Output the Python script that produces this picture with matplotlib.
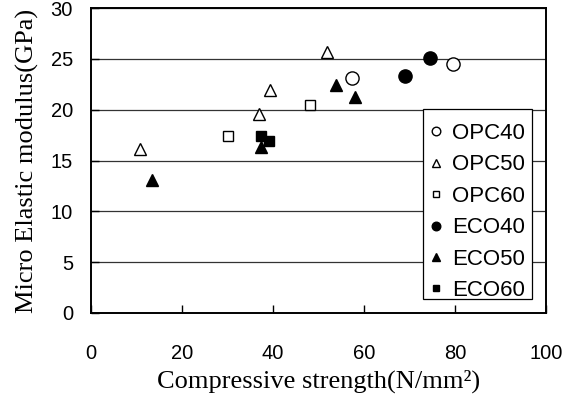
import matplotlib
import numpy as np

matplotlib.use("Agg")
import matplotlib.pyplot as plt
from matplotlib.patches import Rectangle

# values (compressive strength, micro elastic modulus)
opc40_x = [57.3, 79.6]
opc40_y = [23.1, 24.5]
opc50_x = [10.8, 37.0, 39.4, 51.8]
opc50_y = [16.1, 19.6, 21.9, 25.7]
opc60_x = [30.0, 48.1]
opc60_y = [17.4, 20.5]
eco40_x = [69.0, 74.5]
eco40_y = [23.3, 25.1]
eco50_x = [13.5, 37.3, 53.8, 58.1]
eco50_y = [13.1, 16.3, 22.4, 21.3]
eco60_x = [37.3, 39.2]
eco60_y = [17.4, 16.9]

x_ticks = [0, 20, 40, 60, 80, 100]
y_ticks = [0, 5, 10, 15, 20, 25, 30]

series = [
    ("OPC40", opc40_x, opc40_y, "o", "white", 9.5),
    ("OPC50", opc50_x, opc50_y, "^", "white", 8.0),
    ("OPC60", opc60_x, opc60_y, "s", "white", 7.5),
    ("ECO40", eco40_x, eco40_y, "o", "black", 9.5),
    ("ECO50", eco50_x, eco50_y, "^", "black", 8.0),
    ("ECO60", eco60_x, eco60_y, "s", "black", 7.5),
]

fig = plt.figure(figsize=(5.69, 4.07), dpi=100)
ax = fig.add_axes([0.16, 0.231, 0.7996, 0.749])

for label, xs, ys, marker, face, size in series:
    ax.plot(
        xs,
        ys,
        linestyle="none",
        marker=marker,
        markersize=size,
        markerfacecolor=face,
        markeredgecolor="black",
        markeredgewidth=1.0,
        label=label,
        zorder=3,
    )

ax.set_xlim(0, 100)
ax.set_ylim(0, 30)
ax.set_xticks(x_ticks)
ax.set_yticks(y_ticks)
ax.yaxis.grid(True, color="#333333", linewidth=0.9)
ax.set_axisbelow(True)
for spine in ax.spines.values():
    spine.set_linewidth(1.4)
ax.tick_params(direction="in", length=6, width=1.0, labelsize=14.5)
ax.tick_params(axis="x", pad=22)
ax.tick_params(axis="y", pad=13)
for lbl in ax.get_xticklabels() + ax.get_yticklabels():
    lbl.set_fontfamily("Liberation Sans")

ax.set_xlabel(
    "Compressive strength(N/mm²)",
    fontsize=19,
    fontfamily="Liberation Serif",
    labelpad=5,
)
ax.set_ylabel(
    "Micro Elastic modulus(GPa)",
    fontsize=19,
    fontfamily="Liberation Serif",
    labelpad=8,
)

# legend box is cut off at the bottom in the original, so draw the frame
# ourselves and clip the entries to it
box = Rectangle(
    (0.729, 0.045),
    0.24,
    0.623,
    transform=ax.transAxes,
    facecolor="white",
    edgecolor="black",
    linewidth=0.9,
    zorder=4,
)
ax.add_patch(box)

legend = ax.legend(
    loc="upper left",
    bbox_to_anchor=(0.722, 0.656),
    prop={"family": "Liberation Sans", "size": 16},
    markerscale=0.65,
    handlelength=0.6,
    handletextpad=0.4,
    labelspacing=0.47,
    borderpad=0.45,
    borderaxespad=0,
    frameon=False,
)
legend.set_zorder(5)
for text in legend.get_texts():
    text.set_clip_path(box)
for handle in legend.legend_handles:
    handle.set_clip_path(box)

fig.savefig("out.png", dpi=100)
